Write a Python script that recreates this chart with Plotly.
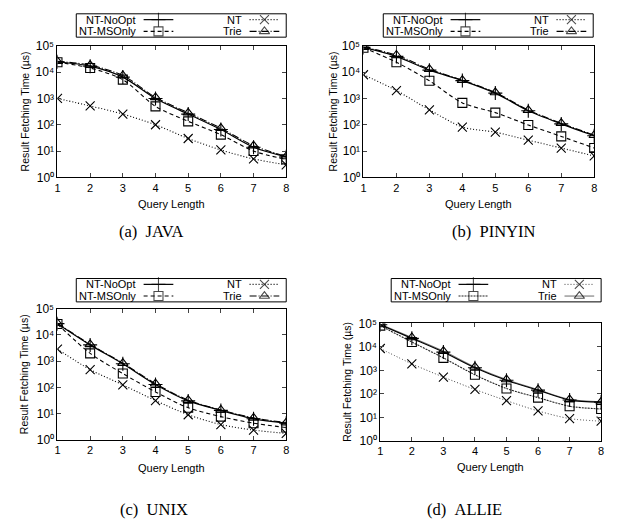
import plotly.graph_objects as go

W, H = 618, 523

query_length = [1, 2, 3, 4, 5, 6, 7, 8]
y_tickvals = [1, 10, 100, 1000, 10000, 100000]
y_ticktext = ["10\u2070", "10\u00b9", "10\u00b2", "10\u00b3", "10\u2074", "10\u2075"]
series_names = ["NT-NoOpt", "NT-MSOnly", "NT", "Trie"]

# Result fetching time (microseconds) per query length
java_noopt = [25000, 17000, 6500, 1000, 255, 66, 14, 6]
java_msonly = [24000, 14500, 5200, 500, 135, 42, 10, 4.8]
java_nt = [1000, 520, 255, 100, 30, 11, 5, 3]
java_trie = [26000, 18500, 7500, 1100, 285, 74, 16, 6.2]

pinyin_noopt = [88000, 40000, 12000, 4800, 1600, 340, 108, 38]
pinyin_msonly = [85000, 24000, 4700, 680, 290, 98, 36, 13]
pinyin_nt = [8000, 2000, 370, 82, 52, 26, 13, 6.5]
pinyin_trie = [90000, 45000, 13000, 5000, 1700, 360, 115, 40]

unix_noopt = [27000, 4200, 800, 130, 31, 13.5, 6.5, 4.4]
unix_msonly = [26000, 2000, 340, 68, 17, 7.8, 4.4, 3.0]
unix_nt = [2900, 480, 126, 32, 9.2, 3.9, 2.4, 1.8]
unix_trie = [28000, 4400, 850, 140, 33, 14, 7, 4.6]

allie_noopt = [87000, 23000, 6000, 1300, 380, 145, 55, 45]
allie_msonly = [80000, 16000, 3400, 650, 170, 70, 30, 23]
allie_nt = [8500, 1900, 520, 155, 52, 19, 9, 7]
allie_trie = [90000, 25000, 6600, 1400, 410, 152, 59, 46]

captions = ["(a)\u00a0\u00a0JAVA", "(b)\u00a0\u00a0PINYIN",
            "(c)\u00a0\u00a0UNIX", "(d)\u00a0\u00a0ALLIE"]

panels = [
    (java_noopt, java_msonly, java_nt, java_trie),
    (pinyin_noopt, pinyin_msonly, pinyin_nt, pinyin_trie),
    (unix_noopt, unix_msonly, unix_nt, unix_trie),
    (allie_noopt, allie_msonly, allie_nt, allie_trie),
]

# plot-area boxes in pixels: (left, right, top, bottom)
boxes = [(55, 286, 40, 175), (364, 597, 40, 175),
         (55, 286, 310, 445), (381, 604, 325, 446)]
# legend box positions (left, top)
legend_pos = [(74, 7), (384, 7), (74, 279), (392, 279)]
caption_pos = [(150, 231), (495, 231), (152, 516), (466, 516)]
xtitle_y = [202, 202, 474, 473]
ytitle_x = [22, 333, 22, 348]

symbols = ["cross-thin-open", "square-open", "x-thin-open", "triangle-up-open"]
style_std = [
    dict(color="black", width=1.2, dash="solid"),
    dict(color="black", width=1.1, dash="4px,3px"),
    dict(color="black", width=1.1, dash="1px,2px"),
    dict(color="black", width=1.1, dash="7px,2px,1px,2px"),
]
style_allie = [
    dict(color="black", width=1.2, dash="solid"),
    dict(color="#222222", width=1.1, dash="2px,1px"),
    dict(color="#444444", width=1.0, dash="1px,2px"),
    dict(color="#777777", width=1.1, dash="solid"),
]
marker_sizes = [10, 9, 9, 9]

fig = go.Figure()
layout = {}
tick_font = dict(family="Liberation Sans", size=11, color="black")

for i, (series, box) in enumerate(zip(panels, boxes)):
    k = "" if i == 0 else str(i + 1)
    l, r, t, b = box
    styles = style_allie if i == 3 else style_std
    for j in [3, 0, 1, 2]:
        fig.add_trace(go.Scatter(
            x=query_length, y=series[j], name=series_names[j],
            mode="lines+markers", showlegend=False,
            line=dict(shape="spline", smoothing=0.8, **styles[j]),
            marker=dict(symbol=symbols[j], size=marker_sizes[j],
                        color="black",
                        line=dict(color="black", width=1.1)),
            xaxis="x" + k, yaxis="y" + k,
        ))
    layout["xaxis" + k] = dict(
        domain=[l / W, r / W], anchor="y" + k, range=[1, 8],
        tickvals=query_length, ticks="inside", ticklen=4,
        showline=True, linecolor="black", linewidth=1, mirror="allticks",
        showgrid=False, zeroline=False, tickfont=tick_font,
    )
    layout["yaxis" + k] = dict(
        domain=[1 - b / H, 1 - t / H], anchor="x" + k, type="log",
        range=[0, 5], tickvals=y_tickvals, ticktext=y_ticktext,
        ticks="inside", ticklen=4,
        showline=True, linecolor="black", linewidth=1, mirror="allticks",
        showgrid=False, zeroline=False,
        tickfont=dict(family="Liberation Sans", size=12, color="black"),
    )

# pixel-space overlay for legends, titles and captions
layout["xaxis9"] = dict(domain=[0, 1], range=[0, W], anchor="y9", visible=False,
                        fixedrange=True)
layout["yaxis9"] = dict(domain=[0, 1], range=[H, 0], anchor="x9", visible=False,
                        fixedrange=True)

shapes = []
annotations = []
txt_font = dict(family="Liberation Sans", size=11, color="black")

for i in range(4):
    l, r, t, b = boxes[i]
    styles = style_allie if i == 3 else style_std
    # axis titles
    annotations.append(dict(x=(l + r) / 2, y=xtitle_y[i], xref="x9", yref="y9",
                            text="Query Length", showarrow=False, font=txt_font,
                            xanchor="center", yanchor="middle"))
    annotations.append(dict(x=ytitle_x[i], y=(t + b) / 2, xref="x9", yref="y9",
                            text="Result Fetching Time (\u00b5s)", showarrow=False,
                            font=dict(family="Liberation Sans", size=10.5, color="black"),
                            textangle=-90, xanchor="center", yanchor="middle"))
    # caption
    cx, cy = caption_pos[i]
    annotations.append(dict(x=cx, y=cy, xref="x9", yref="y9", text=captions[i],
                            showarrow=False,
                            font=dict(family="Liberation Serif", size=16.5, color="black"),
                            xanchor="center", yanchor="middle"))
    # legend box
    lx, ly = legend_pos[i]
    shapes.append(dict(type="rect", xref="x9", yref="y9", x0=lx, x1=lx + 212,
                       y0=ly, y1=ly + 24, line=dict(color="black", width=1),
                       fillcolor="white", layer="below"))
    entries = [(0, 62, 6), (2, 169, 6), (1, 62, 18), (3, 169, 18)]
    for j, tx, dy in entries:
        yy = ly + dy
        annotations.append(dict(x=lx + tx, y=yy, xref="x9", yref="y9",
                                text=series_names[j], showarrow=False,
                                font=txt_font, xanchor="right", yanchor="middle"))
        x0 = lx + tx + 6
        fig.add_trace(go.Scatter(
            x=[x0, x0 + 15, x0 + 30], y=[yy, yy, yy], mode="lines+markers",
            showlegend=False, hoverinfo="skip",
            line=styles[j],
            marker=dict(symbol=symbols[j], size=[0, marker_sizes[j], 0],
                        color="black", line=dict(color="black", width=1.1)),
            xaxis="x9", yaxis="y9",
        ))

fig.update_layout(
    width=W, height=H, margin=dict(l=0, r=0, t=0, b=0),
    paper_bgcolor="white", plot_bgcolor="rgba(0,0,0,0)",
    shapes=shapes, annotations=annotations, showlegend=False,
    **layout,
)

fig.write_html("out.html")
